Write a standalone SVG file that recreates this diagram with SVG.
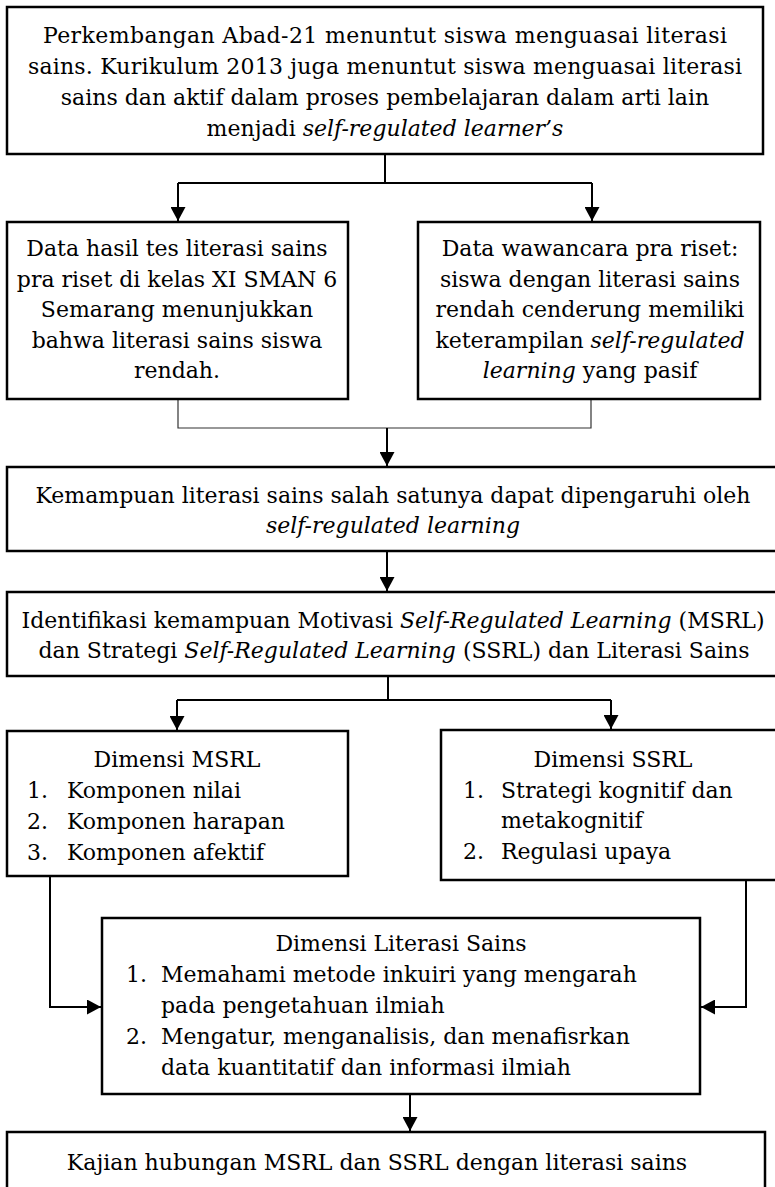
<svg xmlns="http://www.w3.org/2000/svg" width="775" height="1187" viewBox="0 0 775 1187">
<style>
.box{fill:#fff;stroke:#000;stroke-width:2.5}
.t{font-family:"DejaVu Serif","Liberation Serif",serif;font-size:22px;fill:#000}
.c{text-anchor:middle}
.i{font-style:italic}
.ln{stroke:#000;stroke-width:2;fill:none}
.thin{stroke:#333;stroke-width:1.2;fill:none}
</style>
<defs>
<marker id="ah" markerUnits="userSpaceOnUse" markerWidth="15" markerHeight="15" refX="14" refY="7.5" orient="auto" viewBox="0 0 15 15">
<path d="M0,0 L14,7.5 L0,15 z" fill="#000"/>
</marker>
</defs>
<rect width="775" height="1187" fill="#fff"/>
<g id="connectors">
<path class="ln" d="M385,154 V183 M178,183 H592"/>
<path class="ln" d="M178,183 V221" marker-end="url(#ah)"/>
<path class="ln" d="M592,183 V221" marker-end="url(#ah)"/>
<path class="thin" d="M178,399 V428 H591 V399"/>
<path class="ln" d="M387,428 V466" marker-end="url(#ah)"/>
<path class="ln" d="M387,551 V591" marker-end="url(#ah)"/>
<path class="ln" d="M388,676 V700 M177,700 H611"/>
<path class="ln" d="M177,700 V730" marker-end="url(#ah)"/>
<path class="ln" d="M611,700 V729" marker-end="url(#ah)"/>
<path class="ln" d="M50,876 V1007 H101" marker-end="url(#ah)"/>
<path class="ln" d="M746,880 V1007 H701" marker-end="url(#ah)"/>
<path class="ln" d="M410,1094 V1131" marker-end="url(#ah)"/>
</g>
<g id="n1">
<rect class="box" x="7" y="7" width="756" height="147"/>
<text class="t c" x="385" y="43" textLength="684" lengthAdjust="spacing">Perkembangan Abad-21 menuntut siswa menguasai literasi</text>
<text class="t c" x="385" y="74" textLength="714" lengthAdjust="spacing">sains. Kurikulum 2013 juga menuntut siswa menguasai literasi</text>
<text class="t c" x="385" y="105">sains dan aktif dalam proses pembelajaran dalam arti lain</text>
<text class="t c" x="385" y="136">menjadi <tspan class="i">self-regulated learner’s</tspan></text>
</g>
<g id="n2">
<rect class="box" x="7" y="222" width="341" height="177"/>
<text class="t c" x="177" y="256">Data hasil tes literasi sains</text>
<text class="t c" x="177" y="287">pra riset di kelas XI SMAN 6</text>
<text class="t c" x="177" y="317">Semarang menunjukkan</text>
<text class="t c" x="177" y="348">bahwa literasi sains siswa</text>
<text class="t c" x="177" y="378">rendah.</text>
</g>
<g id="n3">
<rect class="box" x="418" y="222" width="342" height="177"/>
<text class="t c" x="590" y="256">Data wawancara pra riset:</text>
<text class="t c" x="590" y="287">siswa dengan literasi sains</text>
<text class="t c" x="590" y="317">rendah cenderung memiliki</text>
<text class="t c" x="590" y="348">keterampilan <tspan class="i">self-regulated</tspan></text>
<text class="t c" x="590" y="378"><tspan class="i">learning</tspan> yang pasif</text>
</g>
<g id="n4">
<rect class="box" x="7" y="467" width="770" height="84"/>
<text class="t c" x="393" y="503">Kemampuan literasi sains salah satunya dapat dipengaruhi oleh</text>
<text class="t c" x="393" y="533"><tspan class="i">self-regulated learning</tspan></text>
</g>
<g id="n5">
<rect class="box" x="7" y="592" width="770" height="84"/>
<text class="t c" x="393" y="628">Identifikasi kemampuan Motivasi <tspan class="i">Self-Regulated Learning</tspan> (MSRL)</text>
<text class="t c" x="394" y="658">dan Strategi <tspan class="i">Self-Regulated Learning</tspan> (SSRL) dan Literasi Sains</text>
</g>
<g id="n6">
<rect class="box" x="7" y="731" width="341" height="145"/>
<text class="t c" x="177" y="767">Dimensi MSRL</text>
<text class="t" x="27" y="798">1.</text><text class="t" x="67" y="798">Komponen nilai</text>
<text class="t" x="27" y="829">2.</text><text class="t" x="67" y="829">Komponen harapan</text>
<text class="t" x="27" y="860">3.</text><text class="t" x="67" y="860">Komponen afektif</text>
</g>
<g id="n7">
<rect class="box" x="441" y="730" width="336" height="150"/>
<text class="t c" x="613" y="767">Dimensi SSRL</text>
<text class="t" x="463" y="798">1.</text><text class="t" x="501" y="798">Strategi kognitif dan</text>
<text class="t" x="501" y="828">metakognitif</text>
<text class="t" x="463" y="859">2.</text><text class="t" x="501" y="859">Regulasi upaya</text>
</g>
<g id="n8">
<rect class="box" x="102" y="918" width="598" height="176"/>
<text class="t c" x="401" y="951">Dimensi Literasi Sains</text>
<text class="t" x="126" y="982">1.</text><text class="t" x="161" y="982">Memahami metode inkuiri yang mengarah</text>
<text class="t" x="161" y="1013">pada pengetahuan ilmiah</text>
<text class="t" x="126" y="1044">2.</text><text class="t" x="161" y="1044">Mengatur, menganalisis, dan menafisrkan</text>
<text class="t" x="161" y="1075">data kuantitatif dan informasi ilmiah</text>
</g>
<g id="n9">
<rect class="box" x="7" y="1132" width="758" height="70"/>
<text class="t c" x="377" y="1170">Kajian hubungan MSRL dan SSRL dengan literasi sains</text>
</g>
</svg>
